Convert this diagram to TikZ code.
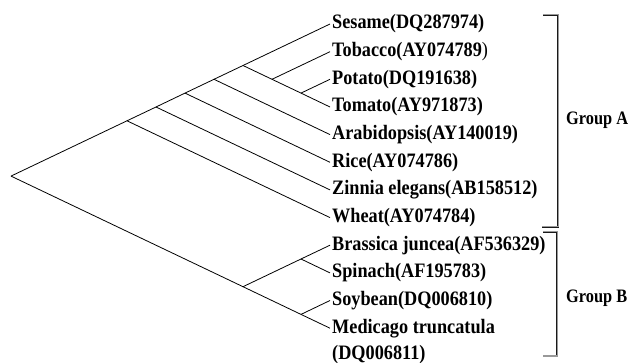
\documentclass[tikz,border=0pt]{standalone}
\usepackage{fontspec}
\usepackage{graphicx}
\setmainfont{Liberation Serif}
\newcommand\cond[1]{\scalebox{0.89}[1]{#1}}
\begin{document}
\begin{tikzpicture}[x=1pt,y=-1pt,
  branch/.style={draw=black, line width=0.8pt},
  leaf/.style={anchor=west, inner sep=2pt, font=\fontsize{20.5}{22}\selectfont\bfseries},
  grp/.style={anchor=west, inner sep=0pt, font=\fontsize{19}{21}\selectfont\bfseries},
  bracket/.style={draw=black!90, double=black!40, double distance=1pt, line width=0.7pt}]
\useasboundingbox (0,0) rectangle (640,363);
% leaves
\node[leaf] (l0) at (330,24.0) {\cond{Sesame(DQ287974)}};
\node[leaf] (l1) at (330,51.7) {\cond{Tobacco(AY074789{\mdseries)}}};
\node[leaf] (l2) at (330,79.3) {\cond{Potato(DQ191638)}};
\node[leaf] (l3) at (330,107.0) {\cond{Tomato(AY971873)}};
\node[leaf] (l4) at (330,134.6) {\cond{Arabidopsis(AY140019)}};
\node[leaf] (l5) at (330,162.3) {\cond{Rice(AY074786)}};
\node[leaf] (l6) at (330,189.9) {\cond{Zinnia elegans(AB158512)}};
\node[leaf] (l7) at (330,217.6) {\cond{Wheat(AY074784)}};
\node[leaf] (l8) at (330,245.2) {\cond{Brassica juncea(AF536329)}};
\node[leaf] (l9) at (330,272.9) {\cond{Spinach(AF195783)}};
\node[leaf] (l10) at (330,300.5) {\cond{Soybean(DQ006810)}};
\node[leaf] (l11) at (330,328.2) {\cond{Medicago truncatula}};
\node[leaf] (l11b) at (330,354.5) {\cond{(DQ006811)}};
% internal nodes
\coordinate (n23) at (301.0,93.1);
\coordinate (n13) at (272.0,79.3);
\coordinate (n03) at (243.0,65.5);
\coordinate (n04) at (214.0,79.3);
\coordinate (n05) at (185.0,93.1);
\coordinate (n06) at (156.0,107.0);
\coordinate (n07) at (127.0,120.8);
\coordinate (n89) at (301.0,259.0);
\coordinate (n1011) at (301.0,314.4);
\coordinate (n811) at (243.0,286.7);
\coordinate (root) at (11.0,176.1);
% branches
\draw[branch] (root) -- (n07);
\draw[branch] (root) -- (n811);
\draw[branch] (n07) -- (n06);
\draw[branch] (n07) -- (l7.west);
\draw[branch] (n06) -- (n05);
\draw[branch] (n06) -- (l6.west);
\draw[branch] (n05) -- (n04);
\draw[branch] (n05) -- (l5.west);
\draw[branch] (n04) -- (n03);
\draw[branch] (n04) -- (l4.west);
\draw[branch] (n03) -- (l0.west);
\draw[branch] (n03) -- (n13);
\draw[branch] (n13) -- (l1.west);
\draw[branch] (n13) -- (n23);
\draw[branch] (n23) -- (l2.west);
\draw[branch] (n23) -- (l3.west);
\draw[branch] (n811) -- (n89);
\draw[branch] (n811) -- (n1011);
\draw[branch] (n89) -- (l8.west);
\draw[branch] (n89) -- (l9.west);
\draw[branch] (n1011) -- (l10.west);
\draw[branch] (n1011) -- (l11.west);
% brackets
\coordinate (a1) at (543,15); \coordinate (a2) at (558,15);
\coordinate (a3) at (558,227); \coordinate (a4) at (542,227);
\coordinate (b1) at (543,232); \coordinate (b2) at (557,232);
\coordinate (b3) at (557,356); \coordinate (b4) at (543,356);
\draw[bracket] (a1) -- (a2) -- (a3) -- (a4);
\draw[bracket] (b1) -- (b2) -- (b3) -- (b4);
\node[grp] (ga) at (566,120) {\scalebox{0.86}[1]{Group A}};
\node[grp] (gb) at (566,298) {\scalebox{0.86}[1]{Group B}};
\end{tikzpicture}
\end{document}
